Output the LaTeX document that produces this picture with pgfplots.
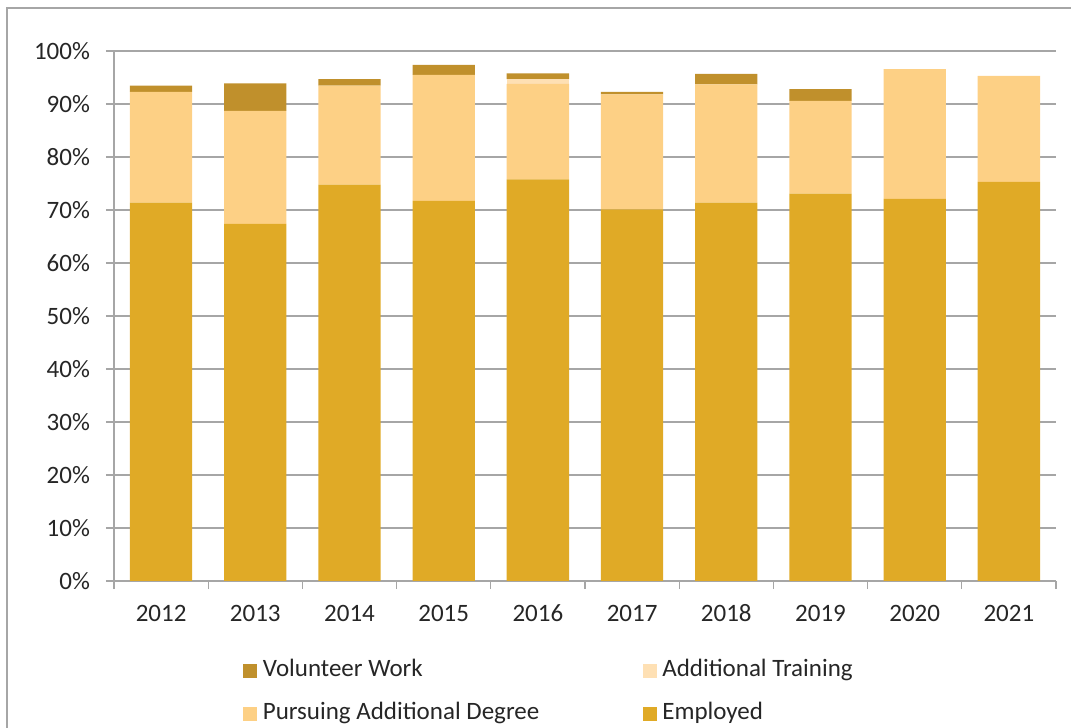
\documentclass[border=0pt]{standalone}
\usepackage{pgfplots}
\pgfplotsset{compat=1.18}
\usepackage{fontspec}
\setmainfont{Carlito}
\definecolor{emp}{HTML}{E0AA26}
\definecolor{deg}{HTML}{FDD085}
\definecolor{trn}{HTML}{FEE0B4}
\definecolor{vol}{HTML}{C0902C}
\definecolor{gridc}{HTML}{A6A6A6}
\definecolor{txt}{HTML}{262626}
\begin{document}
\begin{tikzpicture}[font=\fontsize{12.5}{15}\selectfont]
\begin{axis}[
  at={(0,0)}, anchor=south west,
  scale only axis, width=471pt, height=265pt,
  ybar stacked, bar width=31.15pt,
  xmin=-0.5, xmax=9.5, ymin=0, ymax=100,
  axis x line*=bottom, axis y line*=left,
  axis line style={gridc, line width=0.6pt},
  xtick={0,...,9},
  xticklabels={2012,2013,2014,2015,2016,2017,2018,2019,2020,2021},
  minor xtick={-0.5,0.5,...,9.5},
  x tick style={draw=none},
  minor x tick style={draw=gridc, line width=0.6pt},
  minor tick length=4pt,
  ytick={0,10,...,100},
  yticklabels={0\%,10\%,20\%,30\%,40\%,50\%,60\%,70\%,80\%,90\%,100\%},
  y tick style={draw=gridc, line width=0.6pt},
  major tick length=4pt,
  tick align=outside,
  ymajorgrids, major grid style={gridc, line width=0.6pt},
  ticklabel style={text=txt, font=\fontsize{12.5}{15}\selectfont},
  xticklabel style={yshift=-3.5pt, text height=9pt, text depth=2.5pt},
  yticklabel style={xshift=-4.5pt},
  legend columns=2, reverse legend,
  legend cell align=left,
  legend style={draw=none, fill=none, at={(0.1369,-0.143)}, anchor=north west,
    inner sep=0pt, row sep=8pt,
    nodes={inner sep=1.25pt, text=txt, text height=8.5pt, text depth=2.5pt, font=\fontsize{12.5}{15}\selectfont},
    /tikz/every even column/.append style={column sep=50.5pt}},
  legend image code/.code={\fill[#1] (0pt,-3.5pt) rectangle (7pt,3.5pt); \path (8.5pt,0pt);},
]
\addplot[fill=emp, draw=none] coordinates {(0,71.4) (1,67.4) (2,74.8) (3,71.7) (4,75.8) (5,70.1) (6,71.4) (7,73.1) (8,72.1) (9,75.3)};
\addlegendentry{Employed}
\addplot[fill=deg, draw=none] coordinates {(0,20.9) (1,21.3) (2,18.65) (3,23.8) (4,18.0) (5,21.7) (6,22.3) (7,17.5) (8,24.5) (9,20.0)};
\addlegendentry{Pursuing Additional Degree}
\addplot[fill=trn, draw=none] coordinates {(0,0) (1,0) (2,0) (3,0) (4,0.9) (5,0) (6,0) (7,0) (8,0) (9,0)};
\addlegendentry{Additional Training}
\addplot[fill=vol, draw=none] coordinates {(0,1.15) (1,5.2) (2,1.25) (3,1.9) (4,1.1) (5,0.5) (6,2.0) (7,2.2) (8,0) (9,0)};
\addlegendentry{Volunteer Work}
\end{axis}
\draw[gridc, line width=0.8pt] (-53.5pt,-73.5pt) -- (-53.5pt,286.5pt) -- (478.5pt,286.5pt);
\pgfresetboundingbox
\useasboundingbox (-57pt,-73.5pt) rectangle (478.5pt,290.5pt);
\end{tikzpicture}
\end{document}
